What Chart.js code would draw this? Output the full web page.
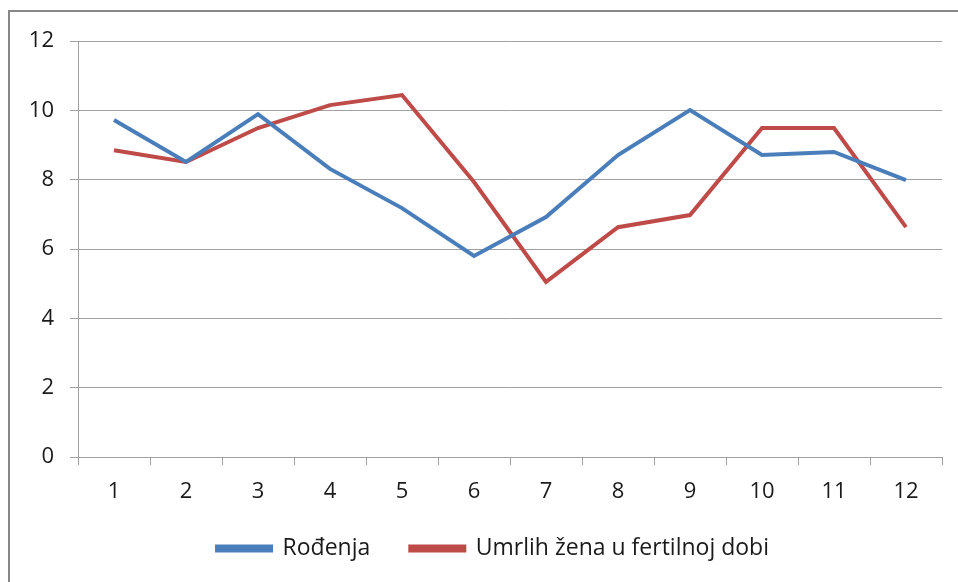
<!DOCTYPE html>
<html>
<head>
<meta charset="utf-8">
<script src="https://cdn.jsdelivr.net/npm/chart.js@4.4.1/dist/chart.umd.min.js"></script>
<style>
  html, body { margin: 0; padding: 0; background: #fff; }
  #wrap { position: relative; width: 958px; height: 582px; overflow: hidden; }
  #frame {
    position: absolute; left: 8px; top: 10px; right: -4px; bottom: -4px;
    border-top: 2px solid #878787; border-left: 2px solid #878787;
  }
  canvas { position: absolute; left: 0; top: 0; }
</style>
</head>
<body>
<div id="wrap">
  <div id="frame"></div>
  <canvas id="chart" width="958" height="582"></canvas>
</div>
<script>
// months 1..12
const months = ['1', '2', '3', '4', '5', '6', '7', '8', '9', '10', '11', '12'];

const rodjenja = [9.72, 8.51, 9.89, 8.31, 7.18, 5.80, 6.92, 8.71, 10.01, 8.71, 8.80, 7.99];
const umrlihZena = [8.85, 8.51, 9.49, 10.15, 10.44, 7.93, 5.05, 6.63, 6.98, 9.49, 9.49, 6.63];

const yTicks = [0, 2, 4, 6, 8, 10, 12];

const BLUE = '#4a7ebb';
const RED = '#be4b48';
const GRID = '#a0a0a0';
const TEXT = '#1a1a1a';
const FONT = 'Open Sans, sans-serif';

// move the legend a bit right and up, under the plot centre
const legendNudge = {
  id: 'legendNudge',
  afterLayout(chart) {
    const lg = chart.legend;
    if (!lg) return;
    lg.left += 22;
    lg.right += 22;
    lg.top -= 9;
    lg.bottom -= 9;
  },
};

const ctx = document.getElementById('chart').getContext('2d');

new Chart(ctx, {
  type: 'line',
  data: {
    labels: months,
    datasets: [
      {
        label: 'Rođenja',
        data: rodjenja,
        borderColor: BLUE,
        backgroundColor: BLUE,
        borderWidth: 4,
        pointRadius: 0,
        tension: 0,
      },
      {
        label: 'Umrlih žena u fertilnoj dobi',
        data: umrlihZena,
        borderColor: RED,
        backgroundColor: RED,
        borderWidth: 4,
        pointRadius: 0,
        tension: 0,
      },
    ],
  },
  plugins: [legendNudge],
  options: {
    responsive: false,
    animation: false,
    layout: { padding: { top: 41, right: 16, bottom: 3, left: 0 } },
    plugins: {
      tooltip: { enabled: false },
      legend: {
        position: 'bottom',
        labels: {
          boxWidth: 54,
          boxHeight: 4,
          padding: 40,
          color: TEXT,
          font: { size: 23, family: FONT },
        },
      },
    },
    scales: {
      x: {
        offset: true,
        afterFit: (s) => { s.height = 49; },
        grid: {
          offset: true,
          drawOnChartArea: false,
          drawTicks: true,
          tickLength: 8,
          color: GRID,
        },
        border: { color: GRID, width: 1 },
        ticks: {
          padding: 14,
          color: TEXT,
          font: { size: 22, family: FONT },
          maxRotation: 0,
        },
      },
      y: {
        min: 0,
        max: 12,
        afterFit: (s) => { s.width = 78; },
        afterBuildTicks: (s) => { s.ticks = yTicks.map((v) => ({ value: v })); },
        grid: {
          color: GRID,
          drawTicks: true,
          tickLength: 8,
        },
        border: { color: GRID, width: 1 },
        ticks: {
          padding: 16,
          color: TEXT,
          font: { size: 22, family: FONT },
        },
      },
    },
  },
});
</script>
</body>
</html>
